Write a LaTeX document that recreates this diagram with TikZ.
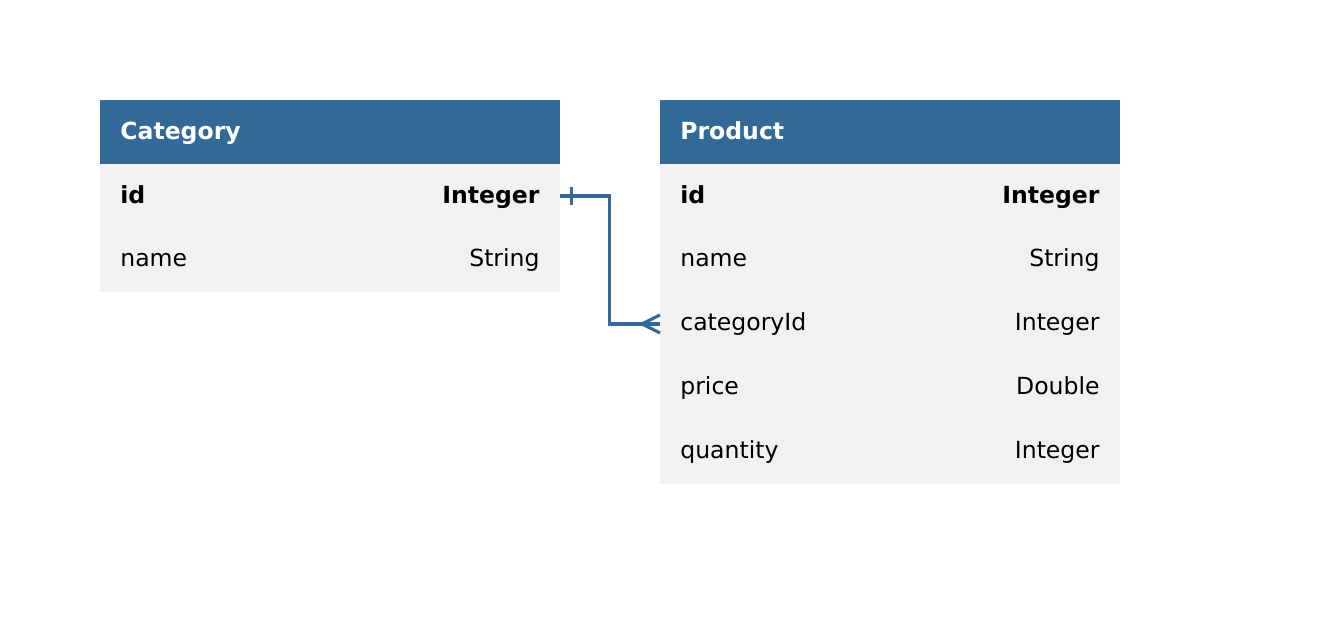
\documentclass[tikz,border=0pt]{standalone}
\usepackage{fontspec}
\setmainfont{DejaVu Sans}
\usetikzlibrary{positioning}
\definecolor{Header_Blue}{HTML}{336996}
\definecolor{Row_Grey}{HTML}{F1F1F1}

\begin{document}
\begin{tikzpicture}[
    x=0.02cm,            % one unit = one pixel
    y=-0.02cm,           % y runs downwards
    font=\fontsize{13.4}{16}\selectfont,
    header/.style={rectangle, fill=Header_Blue, minimum width=9.2cm, minimum height=1.28cm, inner sep=0pt, outer sep=0pt, anchor=north west},
    row/.style={rectangle, fill=Row_Grey, minimum width=9.2cm, minimum height=1.28cm, inner sep=0pt, outer sep=0pt},
    field/.style={inner sep=0pt, text height=11pt, text depth=3pt},
    rel/.style={draw=Header_Blue, line width=1.8pt}
]

    % --- Canvas ---
    \useasboundingbox (0,0) rectangle (1320,619);

    % --- 1. Category table ---
    \node[header] (cat) at (100,100) {};
    \node[field, text=white, right=0.4cm of cat.west] (cat-title) {\textbf{Category}};
    \node[row, below=0pt of cat] (cat-id) {};
    \node[row, below=0pt of cat-id] (cat-name) {};

    \node[field, right=0.4cm of cat-id.west] {\textbf{id}};
    \node[field, left=0.4cm of cat-id.east] {\textbf{Integer}};
    \node[field, right=0.4cm of cat-name.west] {name};
    \node[field, left=0.4cm of cat-name.east] {String};

    % --- 2. Product table ---
    \node[header] (prod) at (660,100) {};
    \node[field, text=white, right=0.4cm of prod.west] (prod-title) {\textbf{Product}};
    \node[row, below=0pt of prod] (prod-id) {};
    \node[row, below=0pt of prod-id] (prod-name) {};
    \node[row, below=0pt of prod-name] (prod-cat) {};
    \node[row, below=0pt of prod-cat] (prod-price) {};
    \node[row, below=0pt of prod-price] (prod-qty) {};

    \node[field, right=0.4cm of prod-id.west] {\textbf{id}};
    \node[field, left=0.4cm of prod-id.east] {\textbf{Integer}};
    \node[field, right=0.4cm of prod-name.west] {name};
    \node[field, left=0.4cm of prod-name.east] {String};
    \node[field, right=0.4cm of prod-cat.west] {categoryId};
    \node[field, left=0.4cm of prod-cat.east] {Integer};
    \node[field, right=0.4cm of prod-price.west] {price};
    \node[field, left=0.4cm of prod-price.east] {Double};
    \node[field, right=0.4cm of prod-qty.west] {quantity};
    \node[field, left=0.4cm of prod-qty.east] {Integer};

    % --- 3. Relation (one to many) ---
    \draw[rel] (cat-id.east) -- ++(50,0) |- (prod-cat.west);

    % one: bar near Category
    \draw[rel] ([xshift=0.24cm]cat-id.east) ++(0,-9) -- ++(0,18);

    % many: crow's foot at Product
    \draw[rel] ([xshift=-0.36cm]prod-cat.west) -- ++(18,-9);
    \draw[rel] ([xshift=-0.36cm]prod-cat.west) -- ++(18,9);

\end{tikzpicture}
\end{document}
